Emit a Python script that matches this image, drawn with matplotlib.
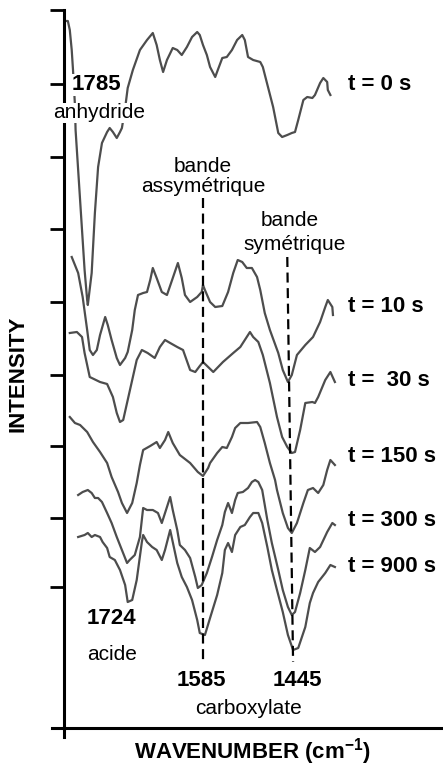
import matplotlib
matplotlib.use('Agg')
import matplotlib.pyplot as plt

plt.rcParams['font.family'] = ['Liberation Sans', 'DejaVu Sans']
plt.rcParams['mathtext.fontset'] = 'custom'
plt.rcParams['mathtext.rm'] = 'Liberation Sans'
plt.rcParams['mathtext.bf'] = 'Liberation Sans:bold'

# spectra: wavenumber (cm-1) and intensity (a.u., stacked)
wn_0 = [1800, 1795, 1792, 1789, 1787, 1784, 1783, 1776, 1772, 1769, 1765, 1764, 1758, 1753, 1748, 1742,
        1734, 1730, 1725, 1719, 1714, 1711, 1706, 1702, 1694, 1683, 1672, 1663, 1657, 1652, 1647, 1641,
        1632, 1625, 1618, 1610, 1602, 1594, 1590, 1585, 1579, 1574, 1566, 1562, 1555, 1548, 1540, 1532,
        1524, 1520, 1515, 1507, 1496, 1492, 1484, 1476, 1468, 1462, 1454, 1447, 1442, 1437, 1429, 1423,
        1415, 1411, 1403, 1398, 1392, 1391, 1387]
int_0 = [707, 707, 698, 678, 658, 623, 598, 528, 488, 458, 428, 423, 455, 515, 561, 585,
         596, 600, 596, 590, 596, 600, 620, 640, 658, 678, 688, 695, 683, 668, 656, 668,
         680, 678, 673, 681, 691, 696, 693, 683, 673, 661, 651, 658, 670, 671, 678, 688,
         693, 688, 671, 668, 666, 661, 641, 621, 595, 591, 593, 595, 596, 608, 628, 631,
         630, 633, 645, 650, 646, 638, 633]

wn_10 = [1789, 1779, 1772, 1765, 1761, 1756, 1750, 1745, 1737, 1733, 1727, 1719, 1714, 1706, 1702, 1695,
         1691, 1686, 1678, 1672, 1667, 1663, 1657, 1649, 1641, 1633, 1624, 1618, 1613, 1605, 1594, 1587,
         1585, 1582, 1574, 1566, 1555, 1546, 1538, 1531, 1524, 1517, 1509, 1501, 1496, 1489, 1481, 1468,
         1461, 1453, 1447, 1439, 1426, 1414, 1403, 1395, 1391, 1384, 1383]
int_10 = [471, 455, 431, 398, 378, 373, 378, 393, 411, 403, 388, 370, 363, 370, 376, 398,
          418, 433, 435, 436, 448, 460, 450, 436, 433, 448, 465, 450, 433, 426, 431, 436,
          443, 438, 426, 421, 422, 436, 455, 468, 466, 460, 460, 451, 438, 415, 398, 375,
          358, 346, 353, 373, 383, 391, 406, 421, 428, 421, 413]

wn_30 = [1792, 1781, 1773, 1769, 1761, 1745, 1734, 1725, 1719, 1714, 1709, 1702, 1695, 1688, 1680, 1671,
         1660, 1652, 1644, 1636, 1625, 1616, 1605, 1597, 1590, 1585, 1577, 1569, 1563, 1554, 1538, 1527,
         1520, 1512, 1507, 1499, 1492, 1481, 1470, 1462, 1454, 1447, 1442, 1434, 1426, 1415, 1411, 1406,
         1395, 1387, 1380]
int_30 = [395, 396, 391, 375, 351, 346, 344, 331, 315, 306, 308, 328, 348, 368, 378, 375,
          370, 381, 388, 385, 381, 378, 358, 356, 362, 366, 361, 356, 360, 366, 375, 381,
          388, 396, 391, 386, 373, 345, 311, 291, 281, 275, 276, 298, 325, 326, 325, 331,
          348, 356, 346]

wn_150 = [1792, 1784, 1776, 1765, 1756, 1745, 1734, 1727, 1717, 1711, 1703, 1695, 1688, 1683, 1678, 1667,
          1657, 1652, 1644, 1639, 1632, 1621, 1605, 1593, 1585, 1577, 1574, 1563, 1555, 1548, 1540, 1535,
          1527, 1515, 1501, 1496, 1489, 1481, 1473, 1470, 1461, 1453, 1447, 1439, 1429, 1422, 1414, 1406,
          1398, 1392, 1387, 1380]
int_150 = [311, 305, 303, 296, 286, 276, 265, 251, 236, 225, 215, 225, 245, 263, 278, 282,
           286, 280, 288, 296, 285, 273, 265, 256, 252, 260, 265, 275, 281, 280, 291, 300,
           305, 305, 306, 301, 285, 265, 248, 238, 215, 200, 195, 205, 225, 238, 240, 235,
           243, 258, 268, 263]

wn_300 = [1779, 1772, 1764, 1758, 1753, 1748, 1742, 1734, 1727, 1719, 1711, 1703, 1699, 1691, 1683, 1678,
          1672, 1663, 1655, 1649, 1644, 1636, 1632, 1625, 1621, 1613, 1605, 1597, 1593, 1587, 1579, 1571,
          1563, 1555, 1551, 1546, 1540, 1535, 1531, 1523, 1515, 1509, 1504, 1499, 1493, 1485, 1478, 1468,
          1461, 1453, 1447, 1442, 1434, 1426, 1419, 1411, 1403, 1392, 1384, 1380]
int_300 = [233, 236, 238, 235, 230, 230, 226, 215, 205, 191, 178, 165, 168, 173, 191, 220,
           218, 218, 215, 205, 215, 231, 218, 198, 183, 178, 170, 151, 140, 143, 155, 171,
           188, 203, 216, 225, 215, 228, 235, 236, 240, 246, 248, 246, 238, 208, 185, 158,
           138, 121, 113, 116, 135, 158, 180, 176, 181, 196, 205, 203]

wn_900 = [1779, 1769, 1764, 1758, 1753, 1745, 1741, 1734, 1730, 1722, 1714, 1706, 1702, 1695, 1688, 1680,
          1678, 1672, 1664, 1657, 1649, 1644, 1636, 1632, 1625, 1618, 1610, 1602, 1594, 1590, 1582, 1574,
          1563, 1555, 1551, 1546, 1540, 1535, 1527, 1520, 1512, 1507, 1499, 1493, 1485, 1478, 1470, 1461,
          1453, 1445, 1437, 1426, 1419, 1414, 1406, 1395, 1387, 1380]
int_900 = [191, 193, 195, 191, 193, 191, 186, 180, 171, 168, 158, 143, 126, 128, 148, 186,
           193, 186, 181, 178, 168, 178, 198, 186, 165, 151, 141, 128, 108, 95, 93, 110,
           133, 155, 178, 185, 176, 193, 201, 203, 211, 215, 215, 205, 181, 158, 138, 116,
           93, 78, 80, 101, 125, 135, 146, 155, 163, 161]

spectra = [(wn_0, int_0), (wn_10, int_10), (wn_30, int_30),
           (wn_150, int_150), (wn_300, int_300), (wn_900, int_900)]
time_labels = ['t = 0 s', 't = 10 s', 't =  30 s', 't = 150 s', 't = 300 s', 't = 900 s']
label_levels = [643, 421, 348, 271, 208, 161]
ytick_pos = [718, 644, 571, 499, 426, 353, 282, 210, 141]

fig = plt.figure(figsize=(4.43, 7.67), dpi=100)
ax = fig.add_axes([64 / 443, 39 / 767, 379 / 443, 718 / 767])

for wn, inten in spectra:
    ax.plot(wn, inten, color='#4d4d4d', lw=1.6, zorder=2)

for lab, lev in zip(time_labels, label_levels):
    ax.text(1359, lev, lab, fontsize=16, fontweight='bold', ha='left', va='center')

# band positions
ax.plot([1585, 1585], [530, 65], color='black', lw=1.6, dashes=(4.5, 2.5), zorder=3)
ax.plot([1454, 1445], [471, 66], color='black', lw=1.6, dashes=(4.5, 2.5), zorder=3)

white = dict(facecolor='white', edgecolor='none', pad=0.5)
ax.text(1750, 643, '1785', fontsize=16, fontweight='bold', ha='center', va='center',
        bbox=white, zorder=5)
ax.text(1747, 615, 'anhydride', fontsize=15, ha='center', va='center',
        bbox=white, zorder=5, clip_on=False)
ax.text(1585, 562, 'bande', fontsize=15, ha='center', va='center')
ax.text(1585, 542, 'assymétrique', fontsize=15, ha='center', va='center')
ax.text(1450, 507, 'bande', fontsize=15, ha='center', va='center')
ax.text(1442, 484, 'symétrique', fontsize=15, ha='center', va='center')
ax.text(1727, 110, '1724', fontsize=16, fontweight='bold', ha='center', va='center')
ax.text(1727, 73, 'acide', fontsize=15, ha='center', va='center')
ax.text(1587, 48, '1585', fontsize=16, fontweight='bold', ha='center', va='center')
ax.text(1439, 48, '1445', fontsize=16, fontweight='bold', ha='center', va='center')
ax.text(1515, 20, 'carboxylate', fontsize=15, ha='center', va='center')

ax.set_xlim(1801, 1212)
ax.set_ylim(0, 718)
ax.set_xticks([])
ax.set_yticks(ytick_pos)
ax.tick_params(axis='y', direction='out', length=10, width=2, labelleft=False)
for s in ['top', 'right']:
    ax.spines[s].set_visible(False)
for s in ['left', 'bottom']:
    ax.spines[s].set_linewidth(2.2)
ax.plot([-12 / 379, 0], [0, 0], color='black', lw=2.2, transform=ax.transAxes, clip_on=False)
ax.plot([0, 0], [0, -9 / 718], color='black', lw=2.2, transform=ax.transAxes, clip_on=False)

fig.text(18 / 443, 1 - 374 / 767, 'INTENSITY', rotation=90, fontsize=16, fontweight='bold',
         ha='center', va='center')
fig.text(252 / 443, 1 - 752 / 767, 'WAVENUMBER (cm$^{\\mathbf{-1}}$)', fontsize=16,
         fontweight='bold', ha='center', va='center')

fig.savefig('out.png', dpi=100)
